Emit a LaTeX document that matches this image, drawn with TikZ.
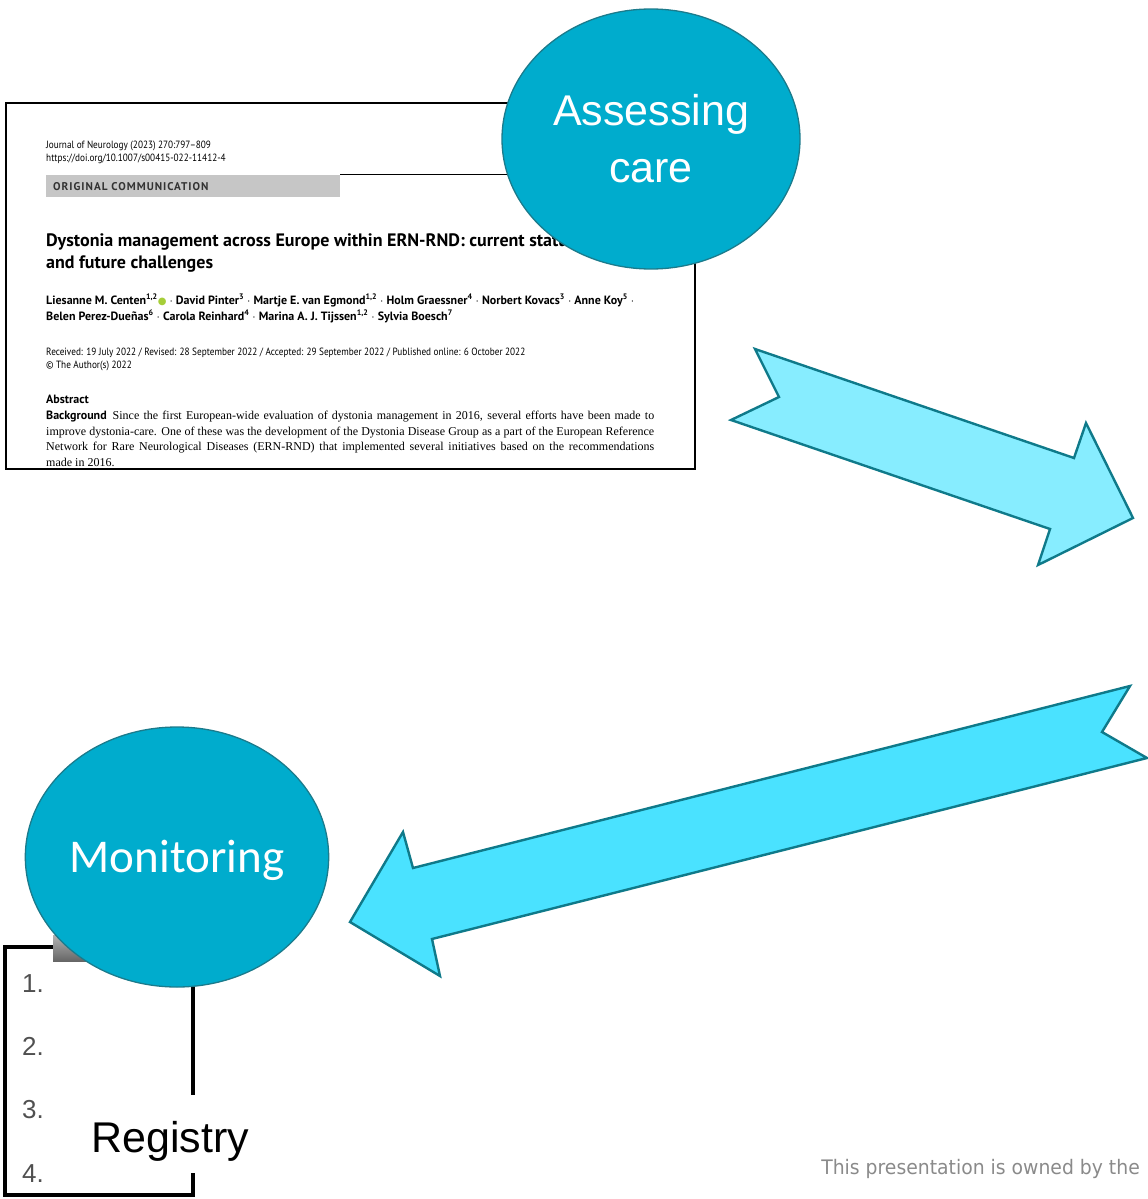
\documentclass[tikz,border=0pt]{standalone}
\usepackage{fontspec}
\usetikzlibrary{shapes.geometric}

\setmainfont{Liberation Serif}
\newfontfamily\labelfont{Liberation Sans}
\newfontfamily\monfont{Carlito}
\newfontfamily\papersans{PT Sans}
\newfontfamily\papernarrow[FakeStretch=0.88]{PT Sans}
\newfontfamily\paperspaced[LetterSpace=9]{PT Sans}
\newfontfamily\footfont[FakeStretch=0.94]{DejaVu Sans}
\newfontfamily\symfont{DejaVu Sans}

\definecolor{bubblefill}{HTML}{00ACCD}
\definecolor{bubbleline}{HTML}{1B7B8C}
\definecolor{arrowline}{HTML}{0F7A8A}
\definecolor{arrowlight}{HTML}{87EDFF}
\definecolor{arrowdeep}{HTML}{4AE2FF}
\definecolor{bargray}{HTML}{C6C6C6}
\definecolor{orcid}{HTML}{A6CE39}
\definecolor{numgray}{HTML}{505050}
\definecolor{footgray}{HTML}{8A8A8A}

\begin{document}
\begin{tikzpicture}[%
      x=1pt, y=-1pt,
      bubble/.style={ellipse, draw=bubbleline, line width=1.3pt, fill=bubblefill,
        text=white, inner sep=0pt, minimum width=298pt, minimum height=260pt,
        align=center},
      blockarrow/.style={draw=arrowline, line width=2.4pt, line join=miter},
      papertext/.style={anchor=base west, inner sep=0pt, align=left},
      listnum/.style={anchor=base west, inner sep=0pt, text=numgray,
        font=\labelfont\fontsize{26}{30}\selectfont},
      ]
      \useasboundingbox (0,0) rectangle (1148,1199);

      % paper excerpt (base = last line)
      \draw[line width=1.5pt] (6,103) rectangle (695,469);
      \node[papertext, font=\papernarrow\fontsize{10.5}{13}\selectfont] (journal) at (46,161)
        {Journal of Neurology (2023) 270:797–809\\https://doi.org/10.1007/s00415-022-11412-4};
      \fill[bargray] (46,175) rectangle (340,197);
      \coordinate (barend) at (340,174);
      \draw[line width=0.8pt] (barend) -- (654,174);
      \node[papertext, font=\paperspaced\bfseries\fontsize{11.2}{12}\selectfont, text=black!80] (kind) at (53,190)
        {ORIGINAL COMMUNICATION};
      \node[papertext, font=\papersans\bfseries\fontsize{18}{22}\selectfont] (title) at (46,268)
        {Dystonia management across Europe within ERN-RND: current status\\and future challenges};
      \node[papertext, font=\papersans\bfseries\fontsize{12}{16}\selectfont] (authors) at (46,320)
        {Liesanne M. Centen\textsuperscript{1,2}{\symfont\textcolor{orcid}{\fontsize{10}{10}\selectfont●}} $\cdot$ David Pinter\textsuperscript{3} $\cdot$ Martje E. van Egmond\textsuperscript{1,2} $\cdot$ Holm Graessner\textsuperscript{4} $\cdot$ Norbert Kovacs\textsuperscript{3} $\cdot$ Anne Koy\textsuperscript{5} $\cdot$\\
         Belen Perez-Dueñas\textsuperscript{6} $\cdot$ Carola Reinhard\textsuperscript{4} $\cdot$ Marina A. J. Tijssen\textsuperscript{1,2} $\cdot$ Sylvia Boesch\textsuperscript{7}};
      \node[papertext, font=\papernarrow\fontsize{10.5}{13}\selectfont] (dates) at (46,368)
        {Received: 19 July 2022 / Revised: 28 September 2022 / Accepted: 29 September 2022 / Published online: 6 October 2022\\© The Author(s) 2022};
      \node[papertext, font=\papersans\bfseries\fontsize{12}{14}\selectfont] (abstract) at (46,403)
        {Abstract};
      \node[papertext, font=\fontsize{12}{15.5}\selectfont] (background) at (46,466)
        {\makebox[608pt][s]{{\papersans\bfseries Background}\enspace Since the first European-wide evaluation of dystonia management in 2016, several efforts have been made to}\\
         \makebox[608pt][s]{improve dystonia-care. One of these was the development of the Dystonia Disease Group as a part of the European Reference}\\
         \makebox[608pt][s]{Network for Rare Neurological Diseases (ERN-RND) that implemented several initiatives based on the recommendations}\\
         made in 2016.};

      \node[bubble, font=\labelfont\fontsize{43}{57}\selectfont] (assess) at (651,139) {Assessing\\care};

      % arrows
      \filldraw[blockarrow, fill=arrowlight] (755,349) -- (1074,458) -- (1086,423) -- (1133,518)
        -- (1038,565) -- (1050,529) -- (731,420) -- (779,397) -- cycle;
      \filldraw[blockarrow, fill=arrowdeep] (1130,686) -- (413,868) -- (403,832) -- (350,922)
        -- (440,976) -- (432,939) -- (1147,758) -- (1102,732) -- cycle;

      % registry list
      \draw[line width=4pt] (5,947) rectangle (193,1195);
      \shade[top color=black!30, bottom color=black!60] (53,935) rectangle (140,961);
      \node[listnum] (num1) at (22,992) {1.};
      \node[listnum] (num2) at (22,1055) {2.};
      \node[listnum] (num3) at (22,1118) {3.};
      \node[listnum] (num4) at (22,1182) {4.};
      \node[anchor=base, fill=white, inner ysep=0pt, inner xsep=3pt, text height=57pt, text depth=21pt,
        font=\labelfont\fontsize{43}{50}\selectfont] (registry) at (170,1152) {Registry};

      \node[bubble, font=\monfont\fontsize{47}{55}\selectfont, text height=31pt, text depth=0pt] (monitor) at (177,857) {Monitoring};

      \node[anchor=base east, inner sep=0pt, text=footgray, font=\footfont\fontsize{20}{24}\selectfont] (owner) at (1140,1174)
        {This presentation is owned by the};
\end{tikzpicture}
\end{document}
